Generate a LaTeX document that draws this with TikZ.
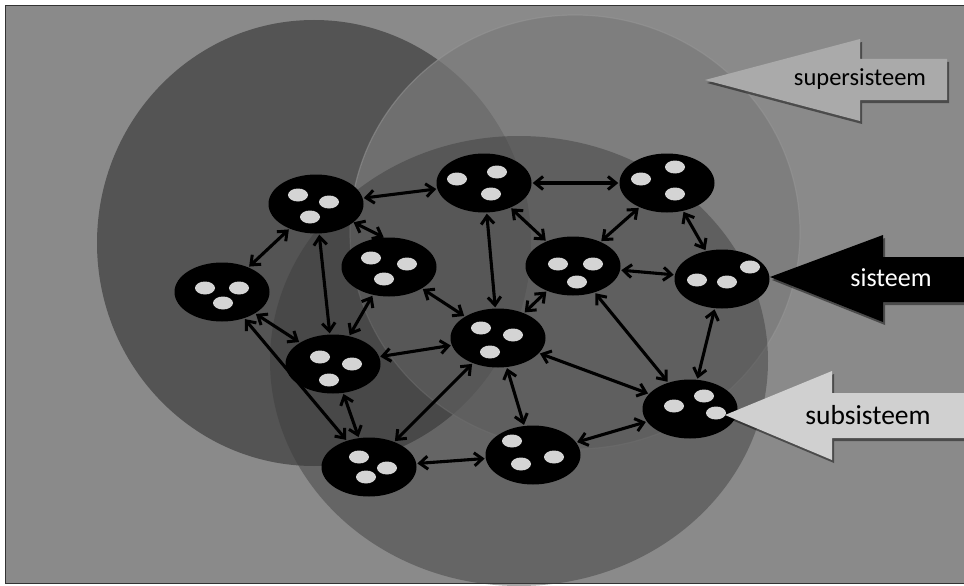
\documentclass[tikz,border=0pt]{standalone}
\usepackage{fontspec}
\setmainfont{Carlito}
\usetikzlibrary{shapes.geometric,arrows.meta}
\definecolor{bgc}{RGB}{138,138,138}
\definecolor{leftc}{RGB}{84,84,84}
\definecolor{upc}{RGB}{122,122,122}
\definecolor{lowc}{RGB}{58,58,58}
\definecolor{spotc}{RGB}{212,212,212}
\definecolor{superc}{RGB}{170,170,170}
\definecolor{subc}{RGB}{208,208,208}
\tikzset{
  cell/.style={ellipse, fill=black, minimum width=95pt, minimum height=59pt, inner sep=0pt},
  spot/.style={fill=spotc},
  link/.style={{Straight Barb[length=8pt,width=13pt,line width=3pt]}-{Straight Barb[length=8pt,width=13pt,line width=3pt]}, line width=3.1pt, black, shorten >=1pt, shorten <=1pt},
  blockshadow/.style={fill=black, opacity=0.45},
  lbl/.style={inner sep=0pt, anchor=center}
}
\begin{document}
\begin{tikzpicture}[x=1pt,y=-1pt]
\useasboundingbox (0,0) rectangle (964,586);
\fill[white] (0,0) rectangle (964,586);
\fill[bgc] (5,5) rectangle (964,583);
\draw[black!80, line width=0.8pt] (964,5) -- (5,5) -- (5,583) -- (964,583);
% system circles
\fill[leftc] (314,243) ellipse [x radius=217, y radius=223];
\fill[upc, opacity=0.72] (575,232) ellipse [x radius=225, y radius=217];
\draw[gray!80!white, line width=1.2pt, opacity=0.5] (575,232) ellipse [x radius=225, y radius=217];
\fill[lowc, opacity=0.45] (519,361) ellipse [x radius=249, y radius=225];
% nodes
\node[cell] (A) at (316,204) {};
\node[cell] (B) at (222,292) {};
\node[cell] (C) at (389,267) {};
\node[cell] (D) at (484,183) {};
\node[cell] (E) at (667,183) {};
\node[cell] (F) at (573,266) {};
\node[cell] (G) at (722,279) {};
\node[cell] (H) at (498,338) {};
\node[cell] (I) at (333,364) {};
\node[cell] (J) at (369,467) {};
\node[cell] (K) at (533,455) {};
\node[cell] (L) at (690,409) {};
% spots
\foreach \x/\y in {298/195, 329/202, 310/217,
                   205/288, 239/288, 223/303,
                   371/258, 407/264, 384/279,
                   457/179, 497/172, 491/194,
                   641/179, 675/167, 675/194,
                   558/264, 593/264, 577/282,
                   697/280, 727/282, 750/267,
                   481/328, 513/335, 490/352,
                   320/357, 352/364, 329/380,
                   359/457, 387/468, 366/477,
                   512/441, 554/457, 521/464,
                   674/406, 704/396, 716/413}
  \fill[spot] (\x,\y) ellipse [x radius=10, y radius=6.5];
% connectors
\draw[link] (A) -- (D);
\draw[link] (A) -- (B);
\draw[link] (A) -- (I);
\draw[link, shorten >=0pt, shorten <=0pt] (A.-26) -- (C.100);
\draw[link] (B) -- (I);
\draw[link] (B) -- (J);
\draw[link] (C) -- (H);
\draw[link] (C) -- (I);
\draw[link] (D) -- (E);
\draw[link] (D) -- (H);
\draw[link] (D) -- (F);
\draw[link] (E) -- (F);
\draw[link] (E) -- (G);
\draw[link] (F) -- (G);
\draw[link] (F) -- (H);
\draw[link] (F) -- (L);
\draw[link] (G) -- (L);
\draw[link] (H) -- (I);
\draw[link] (H) -- (J);
\draw[link] (H) -- (K);
\draw[link] (H) -- (L);
\draw[link] (I) -- (J);
\draw[link] (J) -- (K);
\draw[link] (K) -- (L);
% block arrows with shadows
\fill[blockshadow] ([shift={(2,3)}]705,80) -- ([shift={(2,3)}]860,39) -- ([shift={(2,3)}]860,59) -- ([shift={(2,3)}]947,59) -- ([shift={(2,3)}]947,100) -- ([shift={(2,3)}]860,100) -- ([shift={(2,3)}]860,121) -- cycle;
\fill[superc] (705,80) -- (860,39) -- (860,59) -- (947,59) -- (947,100) -- (860,100) -- (860,121) -- cycle;
\node[lbl, font=\fontsize{24.5}{28}\selectfont] (tsuper) at (860,79) {supersisteem};

\fill[blockshadow] ([shift={(2,3)}]770,277) -- ([shift={(2,3)}]883,235) -- ([shift={(2,3)}]883,257) -- ([shift={(2,3)}]964,257) -- ([shift={(2,3)}]964,302) -- ([shift={(2,3)}]883,302) -- ([shift={(2,3)}]883,322) -- cycle;
\fill[black] (770,277) -- (883,235) -- (883,257) -- (964,257) -- (964,302) -- (883,302) -- (883,322) -- cycle;
\node[lbl, white, font=\fontsize{26}{30}\selectfont] (tsys) at (891,278) {sisteem};

\fill[blockshadow] ([shift={(2,3)}]725,415) -- ([shift={(2,3)}]832,371) -- ([shift={(2,3)}]832,393) -- ([shift={(2,3)}]964,393) -- ([shift={(2,3)}]964,438) -- ([shift={(2,3)}]832,438) -- ([shift={(2,3)}]832,460) -- cycle;
\fill[subc] (725,415) -- (832,371) -- (832,393) -- (964,393) -- (964,438) -- (832,438) -- (832,460) -- cycle;
\node[lbl, font=\fontsize{27.5}{31}\selectfont] (tsub) at (868,415) {subsisteem};
\end{tikzpicture}
\end{document}
